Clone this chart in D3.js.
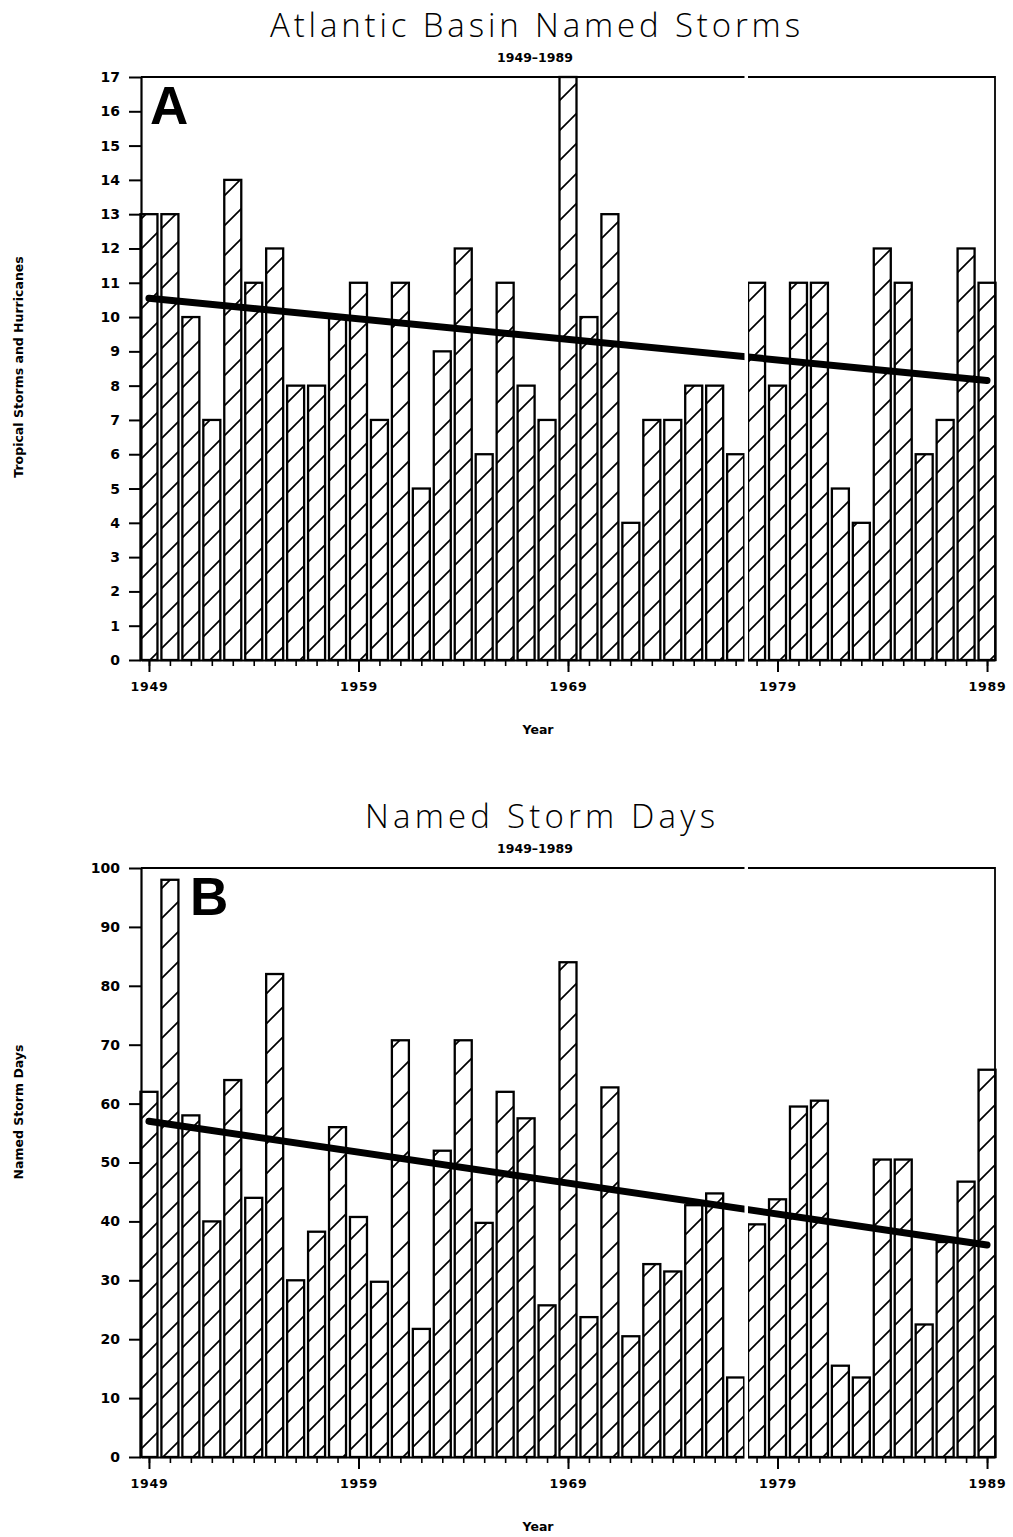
<!DOCTYPE html>
<html>
<head>
<meta charset="utf-8">
<script src="https://cdn.jsdelivr.net/npm/d3@7"></script>
<style>
  body { margin: 0; background: #fff; }
  text { fill: #000; }
</style>
</head>
<body>
<svg id="chart" width="1013" height="1537"></svg>
<script>
// data
const years = d3.range(1949, 1990);
const namedStorms = [13, 13, 10, 7, 14, 11, 12, 8, 8, 10,
  11, 7, 11, 5, 9, 12, 6, 11, 8, 7,
  17, 10, 13, 4, 7, 7, 8, 8, 6, 11,
  8, 11, 11, 5, 4, 12, 11, 6, 7, 12, 11];
const stormDays = [62, 98, 58, 40, 64, 44, 82, 30, 38.25, 56,
  40.75, 29.75, 70.75, 21.75, 52, 70.75, 39.75, 62, 57.5, 25.75,
  84, 23.75, 62.75, 20.5, 32.75, 31.5, 42.75, 44.75, 13.5, 39.5,
  43.75, 59.5, 60.5, 15.5, 13.5, 50.5, 50.5, 22.5, 36.5, 46.75, 65.75];
const stormsTrend = [10.55, 8.15];   // value at 1949 and 1989
const daysTrend = [57.0, 36.0];
const stormTicks = d3.range(0, 18);
const dayTicks = d3.range(0, 101, 10);
const yearLabels = [1949, 1959, 1969, 1979, 1989];

const svg = d3.select("#chart");
const labelFont = "'DejaVu Sans', sans-serif";
const titleFont = "'Open Sans', 'DejaVu Sans', sans-serif";

// diagonal hatch used inside every bar
const hp = 30;
svg.append("defs")
  .append("pattern")
  .attr("id", "hatch")
  .attr("patternUnits", "userSpaceOnUse")
  .attr("width", hp)
  .attr("height", hp)
  .append("path")
  .attr("d", `M-5,5L5,-5M0,${hp}L${hp},0M${hp - 5},${hp + 5}L${hp + 5},${hp - 5}`)
  .attr("stroke", "#000")
  .attr("stroke-width", 1.7);

const x = d3.scaleLinear()
  .domain([1949 - 0.38, 1989 + 0.38])
  .range([141, 995]);
const barW = 17;

function drawPanel(p) {
  const y = d3.scaleLinear().domain([0, p.max]).range([p.bottom, p.top]);
  const g = svg.append("g");

  // title + subtitle
  g.append("text")
    .attr("x", p.titleX).attr("y", p.titleY)
    .attr("text-anchor", "middle")
    .attr("font-family", titleFont)
    .attr("font-weight", 300)
    .attr("font-size", 33)
    .attr("textLength", p.titleLen)
    .attr("lengthAdjust", "spacing")
    .text(p.title);
  g.append("text")
    .attr("x", 535).attr("y", p.subY)
    .attr("text-anchor", "middle")
    .attr("font-family", labelFont)
    .attr("font-weight", "bold")
    .attr("font-size", 12.5)
    .text("1949\u20131989");

  // bars
  g.append("g")
    .selectAll("rect")
    .data(p.values)
    .join("rect")
    .attr("x", (d, i) => x(years[i]) - barW / 2)
    .attr("y", d => y(d))
    .attr("width", barW)
    .attr("height", d => y(0) - y(d))
    .attr("fill", "url(#hatch)")
    .attr("stroke", "#000")
    .attr("stroke-width", 2.3);

  // frame (top and right)
  g.append("path")
    .attr("d", `M${x.range()[0]},${p.top}H${x.range()[1]}V${p.bottom}`)
    .attr("fill", "none")
    .attr("stroke", "#000")
    .attr("stroke-width", 1.8);

  // trend line
  g.append("line")
    .attr("x1", x(1949)).attr("y1", y(p.trend[0]))
    .attr("x2", x(1989)).attr("y2", y(p.trend[1]))
    .attr("stroke", "#000")
    .attr("stroke-width", 7)
    .attr("stroke-linecap", "round");

  // y axis
  const ya = g.append("g")
    .attr("transform", `translate(${x.range()[0]},0)`)
    .call(d3.axisLeft(y).tickValues(p.ticks).tickSize(12).tickSizeOuter(0).tickPadding(9));
  ya.select(".domain").attr("stroke-width", 2.2);
  ya.selectAll(".tick line").attr("stroke-width", 2);
  ya.selectAll(".tick text")
    .attr("font-family", labelFont)
    .attr("font-weight", "bold")
    .attr("font-size", 14);

  // x axis: minor ticks every year, long ticks at labelled years
  const xa = g.append("g")
    .attr("transform", `translate(0,${p.bottom})`)
    .call(d3.axisBottom(x).tickValues(years).tickSize(6).tickSizeOuter(0).tickFormat(""));
  xa.select(".domain").attr("stroke-width", 2.2);
  xa.selectAll(".tick line").attr("stroke-width", 1.6);
  const xl = g.append("g")
    .attr("transform", `translate(0,${p.bottom})`)
    .call(d3.axisBottom(x).tickValues(yearLabels).tickSize(12).tickSizeOuter(0)
      .tickPadding(10).tickFormat(d3.format("d")));
  xl.select(".domain").remove();
  xl.selectAll(".tick line").attr("stroke-width", 2);
  xl.selectAll(".tick text")
    .attr("font-family", labelFont)
    .attr("font-weight", "bold")
    .attr("font-size", 12.5)
    .attr("letter-spacing", 0.8);

  // scan break running through the panel
  g.append("rect")
    .attr("x", 744.5).attr("y", p.top - 6)
    .attr("width", 3.5).attr("height", p.bottom - p.top + 20)
    .attr("fill", "#fff");

  // panel letter
  g.append("text")
    .attr("x", p.letterX).attr("y", p.top + 47)
    .attr("font-family", "'Liberation Sans', Arial, sans-serif")
    .attr("font-weight", "bold")
    .attr("font-size", 53)
    .text(p.letter);

  // axis titles
  g.append("text")
    .attr("transform", `translate(23,${p.yLabelY}) rotate(-90)`)
    .attr("text-anchor", "middle")
    .attr("font-family", labelFont)
    .attr("font-weight", "bold")
    .attr("font-size", 12.5)
    .text(p.yLabel);
  g.append("text")
    .attr("x", 538).attr("y", p.bottom + 74)
    .attr("text-anchor", "middle")
    .attr("font-family", labelFont)
    .attr("font-weight", "bold")
    .attr("font-size", 12.5)
    .text("Year");
}

drawPanel({
  title: "Atlantic Basin Named Storms", titleX: 535, titleY: 37, titleLen: 530, subY: 62,
  values: namedStorms, max: 17, ticks: stormTicks, trend: stormsTrend,
  top: 77, bottom: 660, letter: "A", letterX: 150,
  yLabel: "Tropical Storms and Hurricanes", yLabelY: 367
});

drawPanel({
  title: "Named Storm Days", titleX: 540, titleY: 828, titleLen: 350, subY: 853,
  values: stormDays, max: 100, ticks: dayTicks, trend: daysTrend,
  top: 868, bottom: 1457, letter: "B", letterX: 190,
  yLabel: "Named Storm Days", yLabelY: 1112
});
</script>
</body>
</html>
